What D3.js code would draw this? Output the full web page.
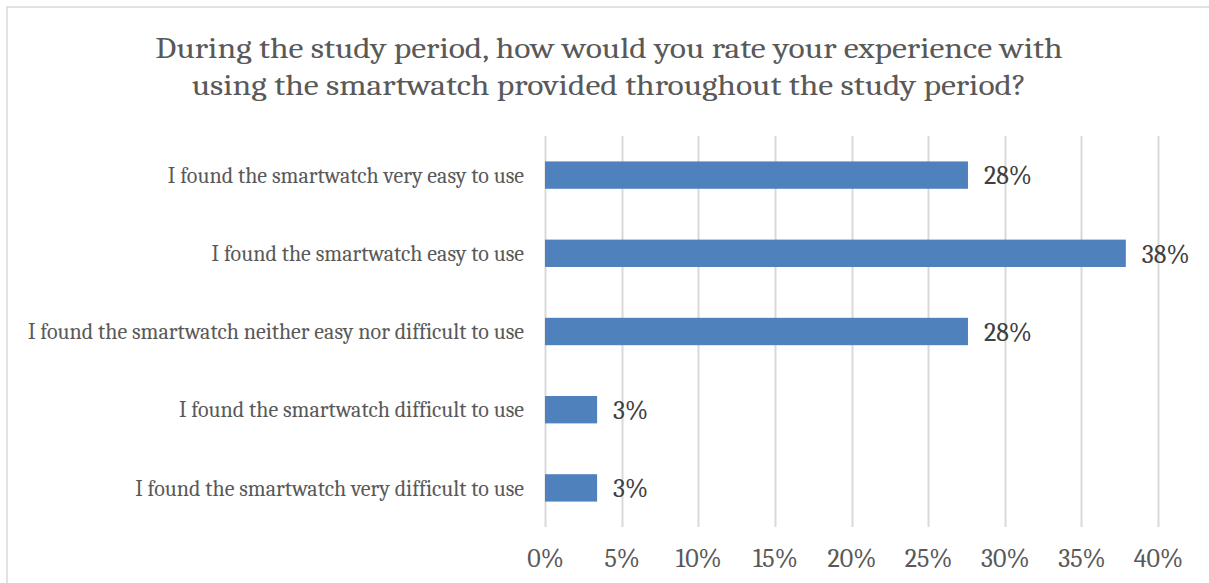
<!DOCTYPE html>
<html>
<head>
<meta charset="utf-8">
<script src="https://cdn.jsdelivr.net/npm/d3@7"></script>
<style>
  html, body { margin: 0; padding: 0; background: #ffffff; }
  svg { display: block; }
</style>
</head>
<body>
<svg id="chart" width="1209" height="583"></svg>
<script>
// Survey responses (share of respondents)
const categories = [
  "I found the smartwatch very easy to use",
  "I found the smartwatch easy to use",
  "I found the smartwatch neither easy nor difficult to use",
  "I found the smartwatch difficult to use",
  "I found the smartwatch very difficult to use"
];
const shares = [0.276, 0.379, 0.276, 0.034, 0.034];
const tickValues = [0, 0.05, 0.10, 0.15, 0.20, 0.25, 0.30, 0.35, 0.40];
const titleLines = [
  "During the study period, how would you rate your experience with",
  "using the smartwatch provided throughout the study period?"
];

const svg = d3.select("#chart");
const W = 1209, H = 583;
const serif = "Cambria, 'Liberation Serif', 'DejaVu Serif', serif";

// Outer chart frame
svg.append("rect")
  .attr("x", 7).attr("y", 7)
  .attr("width", W + 10).attr("height", H + 10)
  .attr("fill", "#fff").attr("stroke", "#d9d9d9").attr("stroke-width", 1.5);

const plot = { left: 545, right: 1158, top: 136, bottom: 527 };

const x = d3.scaleLinear().domain([0, 0.40]).range([plot.left, plot.right]);
const y = d3.scaleBand().domain(categories).range([plot.top, plot.bottom]).paddingInner(0.65).paddingOuter(0.325);

// Widen a text run horizontally by a factor (Cambria-like proportions)
function widen(sel, factor) {
  sel.each(function () {
    const len = this.getComputedTextLength();
    d3.select(this)
      .attr("textLength", len * factor)
      .attr("lengthAdjust", "spacingAndGlyphs");
  });
}

// Title
svg.append("g").selectAll("text")
  .data(titleLines)
  .join("text")
  .attr("x", 609)
  .attr("y", (d, i) => 58 + i * 37)
  .attr("text-anchor", "middle")
  .attr("font-family", serif)
  .attr("font-size", 29)
  .attr("fill", "#595959")
  .text(d => d)
  .call(widen, 1.16);

// Vertical gridlines
svg.append("g").selectAll("line")
  .data(tickValues)
  .join("line")
  .attr("x1", d => Math.round(x(d)) + 0.5)
  .attr("x2", d => Math.round(x(d)) + 0.5)
  .attr("y1", plot.top)
  .attr("y2", plot.bottom)
  .attr("stroke", "#d9d9d9")
  .attr("stroke-width", 2);

// Bars
svg.append("g").selectAll("rect")
  .data(categories)
  .join("rect")
  .attr("x", x(0))
  .attr("y", d => y(d))
  .attr("width", (d, i) => x(shares[i]) - x(0))
  .attr("height", y.bandwidth())
  .attr("fill", "#4f81bd");

// Value labels
const pct = d3.format(".0%");
svg.append("g").selectAll("text")
  .data(categories)
  .join("text")
  .attr("x", (d, i) => x(shares[i]) + 16)
  .attr("y", d => y(d) + y.bandwidth() / 2)
  .attr("dy", "0.36em")
  .attr("font-family", serif)
  .attr("font-size", 26)
  .attr("fill", "#404040")
  .text((d, i) => pct(shares[i]));

// Category axis labels
svg.append("g").selectAll("text")
  .data(categories)
  .join("text")
  .attr("x", 524)
  .attr("y", d => y(d) + y.bandwidth() / 2)
  .attr("dy", "0.35em")
  .attr("text-anchor", "end")
  .attr("font-family", serif)
  .attr("font-size", 22)
  .attr("fill", "#595959")
  .text(d => d);

// Bottom value axis
const xAxis = d3.axisBottom(x)
  .tickValues(tickValues)
  .tickFormat(d3.format(".0%"))
  .tickSize(0)
  .tickPadding(0);
const gx = svg.append("g")
  .attr("transform", `translate(0, 558)`)
  .call(xAxis);
gx.select(".domain").remove();
gx.selectAll("text")
  .attr("dy", "0.35em")
  .attr("font-family", serif)
  .attr("font-size", 26)
  .attr("fill", "#595959");
</script>
</body>
</html>
